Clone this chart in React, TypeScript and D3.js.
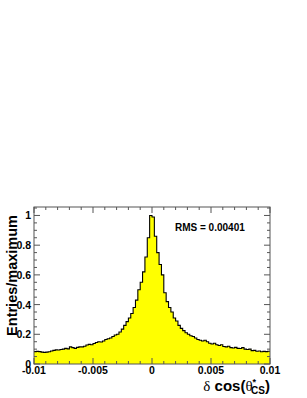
import React from "react";
import * as d3 from "d3";

// histogram of delta cos(theta*_CS), normalised to the maximum bin
const binLow = -0.01;
const binWidth = 0.0002;
const entries = [
  0.083, 0.085, 0.083, 0.08, 0.078, 0.08, 0.082, 0.088, 0.092, 0.095,
  0.094, 0.098, 0.1, 0.105, 0.102, 0.115, 0.11, 0.105, 0.112, 0.115,
  0.115, 0.12, 0.128, 0.132, 0.13, 0.138, 0.145, 0.15, 0.148, 0.155,
  0.165, 0.17, 0.175, 0.185, 0.195, 0.2, 0.215, 0.235, 0.26, 0.285,
  0.31, 0.34, 0.38, 0.43, 0.5, 0.55, 0.62, 0.72, 0.85,
  1.0, 0.99,
  0.86, 0.75, 0.67, 0.6, 0.48, 0.42, 0.38, 0.35, 0.31,
  0.29, 0.26, 0.24, 0.225, 0.21, 0.2, 0.19, 0.185, 0.175, 0.165,
  0.16, 0.155, 0.16, 0.15, 0.14, 0.135, 0.14, 0.13, 0.125, 0.13,
  0.118, 0.115, 0.12, 0.11, 0.108, 0.112, 0.105, 0.104, 0.11, 0.1,
  0.098, 0.1, 0.09, 0.092, 0.086, 0.088, 0.082, 0.085, 0.083, 0.086,
];
const xTickLabels = [-0.01, -0.005, 0, 0.005, 0.01];
const yTickLabels = [0, 0.2, 0.4, 0.6, 0.8, 1];
const rmsText = "RMS = 0.00401";

const App = () => {
  const svgRef = React.useRef<SVGSVGElement>(null);
  const width = 307;
  const height = 398;
  const frame = { left: 34, right: 270, top: 207, bottom: 364 };

  React.useEffect(() => {
    const xScale = d3.scaleLinear().domain([-0.01, 0.01]).range([frame.left, frame.right]);
    const yScale = d3.scaleLinear().domain([0, 1.057]).range([frame.bottom, frame.top]);

    const svg = d3.select(svgRef.current);
    svg.selectAll("*").remove();

    const bins = entries.map((v, i) => ({ x0: binLow + i * binWidth, v }));
    const pts: [number, number][] = bins.map((b) => [b.x0, b.v]);
    pts.push([binLow + entries.length * binWidth, entries[entries.length - 1]]);

    // filled histogram
    const area = d3
      .area<[number, number]>()
      .curve(d3.curveStepAfter)
      .x((d) => xScale(d[0]))
      .y0(yScale(0))
      .y1((d) => yScale(d[1]));
    svg.append("path").attr("d", area(pts)).attr("fill", "#ffff00");

    const line = d3
      .line<[number, number]>()
      .curve(d3.curveStepAfter)
      .x((d) => xScale(d[0]))
      .y((d) => yScale(d[1]));
    svg
      .append("path")
      .attr("d", line(pts))
      .attr("fill", "none")
      .attr("stroke", "#000")
      .attr("stroke-width", 1.1);

    // frame
    svg
      .append("rect")
      .attr("x", frame.left)
      .attr("y", frame.top)
      .attr("width", frame.right - frame.left)
      .attr("height", frame.bottom - frame.top)
      .attr("fill", "none")
      .attr("stroke", "#555")
      .attr("stroke-width", 1);

    // x ticks on bottom and top
    const xMinor = d3.range(-10, 11).map((k) => k * 0.001);
    xMinor.forEach((t, k) => {
      const major = k % 5 === 0;
      const len = major ? 6 : 3;
      const x = xScale(t);
      svg.append("line").attr("x1", x).attr("x2", x)
        .attr("y1", frame.bottom).attr("y2", frame.bottom - len)
        .attr("stroke", "#555");
      svg.append("line").attr("x1", x).attr("x2", x)
        .attr("y1", frame.top).attr("y2", frame.top + len)
        .attr("stroke", "#555");
    });

    // y ticks on left and right
    const yMinor = d3.range(0, 22).map((k) => k * 0.05);
    yMinor.forEach((t, k) => {
      const major = k % 4 === 0;
      const len = major ? 6 : 3;
      const y = yScale(t);
      svg.append("line").attr("x1", frame.left).attr("x2", frame.left + len)
        .attr("y1", y).attr("y2", y).attr("stroke", "#555");
      svg.append("line").attr("x1", frame.right).attr("x2", frame.right - len)
        .attr("y1", y).attr("y2", y).attr("stroke", "#555");
    });

    const font = "'Liberation Sans', Arial, sans-serif";

    svg
      .append("g")
      .selectAll("text")
      .data(xTickLabels)
      .join("text")
      .attr("x", (d) => xScale(d))
      .attr("y", 374)
      .attr("text-anchor", "middle")
      .attr("font-family", font)
      .attr("font-weight", "bold")
      .attr("font-size", 10.5)
      .text((d) => String(d));

    svg
      .append("g")
      .selectAll("text")
      .data(yTickLabels)
      .join("text")
      .attr("x", 31)
      .attr("y", (d) => yScale(d) + 4)
      .attr("text-anchor", "end")
      .attr("font-family", font)
      .attr("font-weight", "bold")
      .attr("font-size", 10.5)
      .text((d) => String(d));

    // axis titles
    svg
      .append("text")
      .attr("transform", "translate(17,215) rotate(-90)")
      .attr("text-anchor", "end")
      .attr("font-family", font)
      .attr("font-weight", "bold")
      .attr("font-size", 14.5)
      .text("Entries/maximum");

    const xt = svg
      .append("text")
      .attr("x", 270)
      .attr("y", 391)
      .attr("text-anchor", "end")
      .attr("font-family", font)
      .attr("font-weight", "bold")
      .attr("font-size", 15);
    xt.append("tspan").attr("font-family", "'Liberation Serif', serif").attr("font-weight", "normal").text("δ");
    xt.append("tspan").text(" cos(");
    xt.append("tspan").attr("font-family", "'Liberation Serif', serif").attr("font-weight", "normal").text("θ");
    xt.append("tspan").attr("font-size", 9).attr("dy", -6).text("*");
    xt.append("tspan").attr("font-size", 10).attr("dx", -5).attr("dy", 9).text("CS");
    xt.append("tspan").attr("dy", -3).text(")");

    svg
      .append("text")
      .attr("x", 175)
      .attr("y", 231)
      .attr("font-family", font)
      .attr("font-weight", "bold")
      .attr("font-size", 10)
      .text(rmsText);
  }, []);

  return (
    <svg
      ref={svgRef}
      width={width}
      height={height}
      style={{ position: "fixed", left: 0, top: 0, background: "#fff" }}
    />
  );
};

export default App;
